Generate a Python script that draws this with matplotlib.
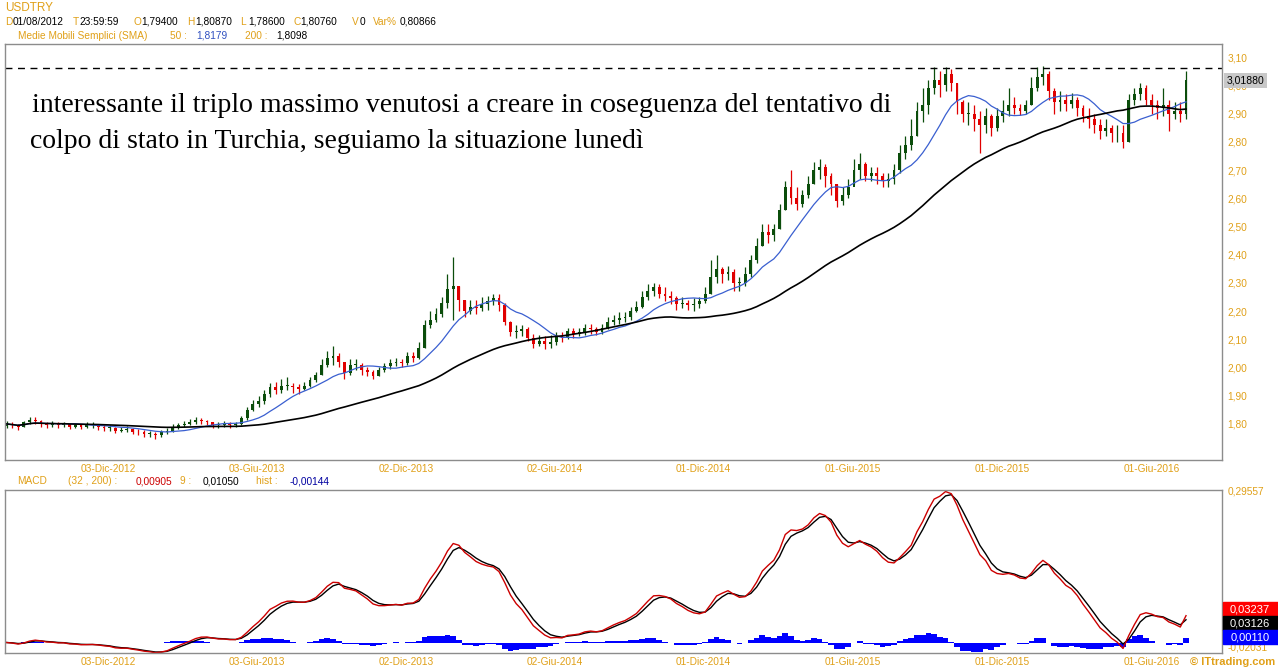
import numpy as np
import pandas as pd
import matplotlib
matplotlib.use("Agg")
import matplotlib.pyplot as plt
from matplotlib.transforms import blended_transform_factory

# weekly USDTRY bars, first week starts 01/08/2012
start = pd.Timestamp("2012-08-01")
first_open = 1.794

close = [1.800, 1.795, 1.790, 1.805, 1.815, 1.812, 1.800, 1.795, 1.800, 1.795,
         1.800, 1.790, 1.795, 1.790, 1.795, 1.795, 1.790, 1.785, 1.785, 1.775,
         1.780, 1.782, 1.772, 1.770, 1.765, 1.765, 1.760, 1.770, 1.775, 1.790,
         1.795, 1.800, 1.805, 1.815, 1.812, 1.805, 1.795, 1.795, 1.800, 1.795,
         1.800, 1.820, 1.850, 1.870, 1.880, 1.905, 1.930, 1.920, 1.935, 1.935,
         1.930, 1.925, 1.935, 1.955, 1.975, 2.010, 2.035, 2.040, 2.020, 1.980,
         2.010, 2.010, 1.990, 1.985, 1.970, 1.990, 2.005, 2.015, 2.020, 2.015,
         2.040, 2.035, 2.070, 2.150, 2.170, 2.190, 2.230, 2.280, 2.290, 2.240,
         2.200, 2.215, 2.210, 2.225, 2.235, 2.245, 2.220, 2.160, 2.125, 2.130,
         2.135, 2.105, 2.085, 2.095, 2.085, 2.090, 2.110, 2.105, 2.130, 2.120,
         2.125, 2.140, 2.135, 2.125, 2.140, 2.160, 2.170, 2.175, 2.180, 2.200,
         2.215, 2.250, 2.270, 2.285, 2.260, 2.255, 2.245, 2.225, 2.230, 2.220,
         2.225, 2.235, 2.260, 2.320, 2.350, 2.330, 2.340, 2.300, 2.300, 2.330,
         2.380, 2.430, 2.480, 2.470, 2.490, 2.560, 2.640, 2.600, 2.580, 2.610,
         2.650, 2.700, 2.710, 2.680, 2.650, 2.590, 2.610, 2.640, 2.700, 2.720,
         2.680, 2.690, 2.680, 2.660, 2.670, 2.700, 2.760, 2.790, 2.820, 2.910,
         2.930, 2.990, 3.020, 3.000, 3.040, 3.010, 2.940, 2.900, 2.900, 2.880,
         2.860, 2.890, 2.850, 2.890, 2.910, 2.930, 2.920, 2.910, 2.930, 2.990,
         3.030, 3.040, 2.980, 2.940, 2.950, 2.935, 2.950, 2.920, 2.890, 2.880,
         2.860, 2.840, 2.850, 2.830, 2.830, 2.800, 2.950, 2.970, 2.990, 2.950,
         2.930, 2.920, 2.930, 2.900, 2.910, 2.900, 3.0188]

high = [1.812, 1.805, 1.800, 1.812, 1.826, 1.825, 1.815, 1.806, 1.810, 1.805,
        1.808, 1.800, 1.803, 1.800, 1.805, 1.806, 1.800, 1.795, 1.795, 1.790,
        1.790, 1.792, 1.785, 1.782, 1.778, 1.775, 1.772, 1.780, 1.785, 1.798,
        1.803, 1.810, 1.818, 1.825, 1.822, 1.815, 1.808, 1.805, 1.810, 1.805,
        1.808, 1.828, 1.860, 1.885, 1.900, 1.920, 1.945, 1.950, 1.960, 1.965,
        1.945, 1.940, 1.950, 1.965, 1.985, 2.030, 2.060, 2.075, 2.050, 2.020,
        2.030, 2.030, 2.015, 2.000, 1.990, 2.000, 2.015, 2.030, 2.035, 2.030,
        2.055, 2.055, 2.090, 2.170, 2.200, 2.210, 2.250, 2.330, 2.390, 2.290,
        2.240, 2.240, 2.240, 2.250, 2.255, 2.260, 2.260, 2.230, 2.165, 2.150,
        2.150, 2.145, 2.120, 2.115, 2.110, 2.115, 2.125, 2.125, 2.140, 2.140,
        2.140, 2.155, 2.155, 2.145, 2.155, 2.180, 2.185, 2.195, 2.195, 2.215,
        2.235, 2.270, 2.295, 2.300, 2.295, 2.285, 2.270, 2.255, 2.250, 2.240,
        2.245, 2.250, 2.285, 2.380, 2.400, 2.355, 2.360, 2.350, 2.320, 2.355,
        2.400, 2.460, 2.510, 2.510, 2.510, 2.580, 2.660, 2.700, 2.640, 2.630,
        2.680, 2.730, 2.740, 2.720, 2.690, 2.650, 2.640, 2.670, 2.740, 2.760,
        2.730, 2.710, 2.710, 2.690, 2.690, 2.720, 2.790, 2.820, 2.880, 2.940,
        2.990, 3.020, 3.065, 3.050, 3.065, 3.060, 3.010, 2.950, 2.940, 2.930,
        2.910, 2.920, 2.900, 2.920, 2.950, 2.990, 2.960, 2.935, 2.950, 3.030,
        3.065, 3.070, 3.050, 2.990, 2.980, 2.970, 2.975, 2.960, 2.930, 2.920,
        2.900, 2.880, 2.880, 2.860, 2.860, 2.860, 2.970, 2.990, 3.010, 3.000,
        2.970, 2.950, 2.990, 2.950, 2.940, 2.940, 3.050]

low = [1.786, 1.785, 1.780, 1.788, 1.800, 1.800, 1.790, 1.785, 1.790, 1.785,
       1.788, 1.782, 1.785, 1.782, 1.785, 1.786, 1.780, 1.776, 1.775, 1.768,
       1.770, 1.772, 1.765, 1.760, 1.755, 1.752, 1.748, 1.755, 1.763, 1.770,
       1.782, 1.788, 1.795, 1.800, 1.800, 1.795, 1.785, 1.785, 1.790, 1.787,
       1.790, 1.795, 1.815, 1.845, 1.860, 1.870, 1.895, 1.905, 1.910, 1.920,
       1.910, 1.905, 1.920, 1.930, 1.950, 1.975, 2.000, 2.010, 2.000, 1.960,
       1.975, 1.990, 1.975, 1.970, 1.960, 1.970, 1.985, 1.995, 2.005, 2.000,
       2.010, 2.020, 2.030, 2.070, 2.140, 2.160, 2.180, 2.210, 2.170, 2.200,
       2.180, 2.190, 2.190, 2.200, 2.205, 2.220, 2.200, 2.150, 2.110, 2.105,
       2.110, 2.095, 2.070, 2.075, 2.065, 2.070, 2.080, 2.090, 2.100, 2.105,
       2.110, 2.115, 2.120, 2.115, 2.120, 2.135, 2.150, 2.155, 2.160, 2.170,
       2.195, 2.210, 2.240, 2.255, 2.245, 2.235, 2.225, 2.205, 2.210, 2.205,
       2.200, 2.210, 2.230, 2.260, 2.300, 2.300, 2.310, 2.270, 2.270, 2.290,
       2.320, 2.370, 2.430, 2.440, 2.450, 2.490, 2.560, 2.580, 2.560, 2.570,
       2.600, 2.650, 2.670, 2.640, 2.610, 2.570, 2.575, 2.600, 2.650, 2.670,
       2.660, 2.660, 2.650, 2.640, 2.640, 2.650, 2.690, 2.740, 2.770, 2.820,
       2.870, 2.900, 2.970, 2.960, 2.980, 2.980, 2.900, 2.870, 2.860, 2.840,
       2.760, 2.830, 2.820, 2.840, 2.870, 2.890, 2.900, 2.895, 2.900, 2.930,
       2.980, 3.000, 2.950, 2.900, 2.910, 2.910, 2.920, 2.890, 2.870, 2.850,
       2.830, 2.810, 2.820, 2.800, 2.800, 2.780, 2.800, 2.930, 2.950, 2.930,
       2.900, 2.880, 2.890, 2.840, 2.880, 2.870, 2.880]

triple_top = 3.0635
price_ticks = [1.80, 1.90, 2.00, 2.10, 2.20, 2.30, 2.40, 2.50, 2.60, 2.70, 2.80, 2.90, 3.00, 3.10]
macd_limits = [-0.02031, 0.29557]
last_labels = ["0,03237", "0,03126", "0,00110"]

date_ticks = ["2012-12-03", "2013-06-03", "2013-12-02", "2014-06-02",
              "2014-12-01", "2015-06-01", "2015-12-01", "2016-06-01"]
date_labels = ["03-Dic-2012", "03-Giu-2013", "02-Dic-2013", "02-Giu-2014",
               "01-Dic-2014", "01-Giu-2015", "01-Dic-2015", "01-Giu-2016"]

# ---- derived series (daily periods converted to weeks) ----
c = pd.Series(close)
o = c.shift(1).fillna(first_open)
h = pd.Series(high)
l = pd.Series(low)
x = np.arange(len(close)) * 7.0  # days from start

sma50 = c.rolling(10, min_periods=1).mean()
sma200 = c.rolling(40, min_periods=1).mean()
ema_fast = c.ewm(span=32 / 5, adjust=False).mean()
ema_slow = c.ewm(span=200 / 5, adjust=False).mean()
macd = ema_fast - ema_slow
signal = macd.ewm(span=2.6, adjust=False).mean()  # ~ same lag as a 9 day EMA
hist = macd - signal

W, H = 1278, 668
orange = "#e0a018"
fig = plt.figure(figsize=(W / 100, H / 100), dpi=100)
plt.rcParams['font.family'] = ['Liberation Sans', 'DejaVu Sans']


def fx(px):
    return px / W


def fy(py):
    return 1 - py / H


ax1 = fig.add_axes([fx(5), fy(460), fx(1222 - 5), (460 - 44) / H])
ax2 = fig.add_axes([fx(5), fy(653), fx(1222 - 5), (653 - 490) / H], sharex=ax1)

# candles
up = c >= o
for mask, col in [(up, "#0b4d0b"), (~up, "#e00000")]:
    ax1.vlines(x[mask], l[mask], h[mask], color=col, lw=0.9)
    bottom = np.minimum(o[mask], c[mask])
    height = np.maximum(np.abs(c[mask] - o[mask]), 0.003)
    ax1.bar(x[mask], height, bottom=bottom, width=3.5, color=col, linewidth=0)

ax1.plot(x, sma50, color="#3a5fd0", lw=0.9)
ax1.plot(x, sma200, color="black", lw=1.2)
ax1.axhline(triple_top, color="black", lw=1, ls=(0, (5, 4)))

ax1.set_ylim(1.672, 3.147)
ax1.set_yticks(price_ticks)
ax1.set_yticklabels([f"{v:.2f}".replace(".", ",") for v in price_ticks])
ax1.yaxis.tick_right()

tick_pos = [(pd.Timestamp(d) - start).days for d in date_ticks]
ax1.set_xlim(-2, 1486)
ax1.set_xticks(tick_pos)
ax1.set_xticklabels(date_labels)

# last price box
tr = blended_transform_factory(ax1.transAxes, ax1.transData)
ax1.text(1.0035, close[-1], f"{close[-1]:.5f}".replace(".", ","), transform=tr,
         fontsize=7.5, va="center", ha="left", color="black", zorder=10,
         bbox=dict(boxstyle="square,pad=0.25", fc="#c8c8c8", ec="none"))

fig.text(fx(32), fy(106), "interessante il triplo massimo venutosi a creare in coseguenza del tentativo di",
         family="Liberation Serif", fontsize=20, va="center")
fig.text(fx(30), fy(142), "colpo di stato in Turchia, seguiamo la situazione lunedì",
         family="Liberation Serif", fontsize=20, va="center")

# MACD panel
ax2.bar(x, hist, width=7, color="#0000ff", linewidth=0)
ax2.plot(x, signal, color="black", lw=1)
ax2.plot(x, macd, color="#cc0000", lw=1)
ax2.set_ylim(macd_limits)
ax2.set_yticks(macd_limits)
ax2.set_yticklabels([f"{v:.5f}".replace(".", ",") for v in macd_limits])
ax2.yaxis.tick_right()
ax2.set_xticks(tick_pos)
ax2.set_xticklabels(date_labels)
ax2.tick_params(axis="x", labelbottom=True)

for ax in (ax1, ax2):
    for s in ax.spines.values():
        s.set_color("#8c8c8c")
        s.set_linewidth(1)
    ax.tick_params(length=0, labelsize=7.3, colors=orange, pad=3)
    ax.tick_params(axis="y", pad=4)

# bottom tick label of MACD panel sits a little higher, just under the boxes
ax2.get_yticklabels()[0].set_verticalalignment("bottom")

# colored value boxes at bottom right
for i, (txt, col) in enumerate(zip(last_labels, ["#ff0000", "black", "#0000ff"])):
    yy = 602 + i * 14
    fig.patches.append(plt.Rectangle((fx(1223), fy(yy + 14)), fx(55), 14 / H,
                                     transform=fig.transFigure, color=col, zorder=5))
    fig.text(fx(1250), fy(yy + 7), txt, color="white", fontsize=8,
             ha="center", va="center", zorder=6)

fig.text(fx(1275), fy(662), "© ITtrading.com", color=orange, fontsize=8,
         fontweight="bold", ha="right", va="center")

# header
fig.text(fx(5), fy(8), "USDTRY", color=orange, fontsize=8.5, va="center")
head2 = [(5, "D", orange), (13, "01/08/2012", "black"), (73, "T", orange),
         (79, "23:59:59", "black"), (133, "O", orange), (141, "1,79400", "black"),
         (187, "H", orange), (195, "1,80870", "black"), (240, "L", orange),
         (248, "1,78600", "black"), (294, "C", orange), (300, "1,80760", "black"),
         (352, "V", orange), (360, "0", "black"), (373, "Var%", orange),
         (400, "0,80866", "black")]
for px, s, col in head2:
    fig.text(fx(px), fy(22), s, color=col, fontsize=7.3, va="center")
head3 = [(18, "Medie Mobili Semplici (SMA)", orange), (170, "50 :", orange),
         (196, "1,8179", "#3050c0"), (245, "200 :", orange), (276, "1,8098", "black")]
for px, s, col in head3:
    fig.text(fx(px), fy(36), s, color=col, fontsize=7.3, va="center")
head4 = [(17, "MACD", orange), (68, "(32 , 200) :", orange), (136, "0,00905", "#cc0000"),
         (180, "9 :", orange), (203, "0,01050", "black"), (256, "hist :", orange),
         (290, "-0,00144", "#0000a0")]
for px, s, col in head4:
    fig.text(fx(px), fy(481), s, color=col, fontsize=7.3, va="center")

fig.savefig("out.png", dpi=100, facecolor="white")
